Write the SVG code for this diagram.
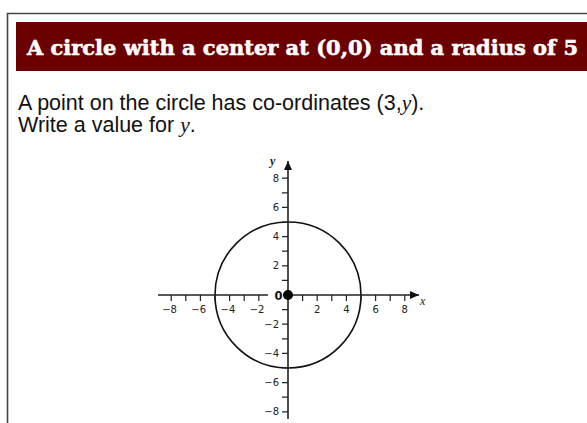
<svg xmlns="http://www.w3.org/2000/svg" width="587" height="423" viewBox="0 0 587 423">
<style>
.tick{stroke:#222;stroke-width:1.2}
.axis{stroke:#222;stroke-width:1.6}
.tl{font-family:"DejaVu Sans",sans-serif;font-size:10px;fill:#222}
.body{font-family:"Liberation Sans",Arial,sans-serif;font-size:21.5px;fill:#111}
.iv{font-family:"Liberation Serif","Times New Roman",serif;font-style:italic}
</style>
<defs>
<marker id="ah" markerWidth="10" markerHeight="10" refX="9" refY="4" orient="auto" markerUnits="userSpaceOnUse">
<path d="M0,0 L9,4 L0,8 Z" fill="#111"/>
</marker>
</defs>
<rect width="587" height="423" fill="#fff"/>
<g id="frame">
<path d="M7.5,423 V13.5 H587" fill="none" stroke="#444" stroke-width="1.6"/>
</g>
<g id="banner">
<rect x="16" y="22" width="571" height="49" fill="#6a0000"/>
<text x="27" y="55" font-family="DejaVu Serif" font-weight="bold" font-size="21" fill="#fff" stroke="#fff" stroke-width="0.6" textLength="551" lengthAdjust="spacingAndGlyphs">A circle with a center at (0,0) and a radius of 5</text>
</g>
<g id="question">
<text class="body" x="18" y="110">A point on the circle has co-ordinates (3,<tspan class="iv">y</tspan>).</text>
<text class="body" x="18" y="132">Write a value for <tspan class="iv">y</tspan>.</text>
</g>
<g id="graph">
<g id="circle"><circle cx="288" cy="295" r="73" fill="none" stroke="#111" stroke-width="1.6"/></g>
<g id="connectors">
<line class="axis" x1="158" y1="295" x2="419" y2="295" marker-end="url(#ah)"/>
<line class="axis" x1="288" y1="419" x2="288" y2="161" marker-end="url(#ah)"/>
</g>
<g id="xticks">
<path class="tick" d="M171.2,295v6M185.8,295v6M200.4,295v6M215,295v6M229.6,295v6M244.2,295v6M258.8,295v6M302.6,295v6M317.2,295v6M331.8,295v6M346.4,295v6M361,295v6M375.6,295v6M390.2,295v6M404.8,295v6"/>
</g>
<g id="yticks">
<path class="tick" d="M282,178.2h6M282,192.8h6M282,207.4h6M282,222h6M282,236.6h6M282,251.2h6M282,265.8h6M282,280.4h6M282,309.6h6M282,324.2h6M282,338.8h6M282,353.4h6M282,368h6M282,382.6h6M282,397.2h6M282,411.8h6"/>
</g>
<g id="xlabels" class="tl" text-anchor="middle">
<text x="169.5" y="312.5">−8</text>
<text x="198.7" y="312.5">−6</text>
<text x="227.9" y="312.5">−4</text>
<text x="257.1" y="312.5">−2</text>
<text x="317.2" y="312.5">2</text>
<text x="346.4" y="312.5">4</text>
<text x="375.6" y="312.5">6</text>
<text x="404.8" y="312.5">8</text>
</g>
<g id="ylabels" class="tl" text-anchor="end">
<text x="279" y="181.8">8</text>
<text x="279" y="211">6</text>
<text x="279" y="240.2">4</text>
<text x="279" y="269.4">2</text>
<text x="279" y="327.8">−2</text>
<text x="279" y="357">−4</text>
<text x="279" y="386.2">−6</text>
<text x="279" y="415.4">−8</text>
</g>
<rect x="268" y="289" width="15" height="12" fill="#fff"/>
<text x="278.5" y="299.5" font-family="DejaVu Sans" font-weight="bold" font-size="11.5" fill="#111" text-anchor="middle">0</text>
<text x="420" y="305" font-family="Liberation Serif" font-style="italic" font-size="12" fill="#222">x</text>
<text x="270" y="165" font-family="Liberation Serif" font-style="italic" font-weight="bold" font-size="12" fill="#222">y</text>
<g id="origin"><circle cx="288" cy="295" r="5" fill="#000"/></g>
</g>
</svg>
